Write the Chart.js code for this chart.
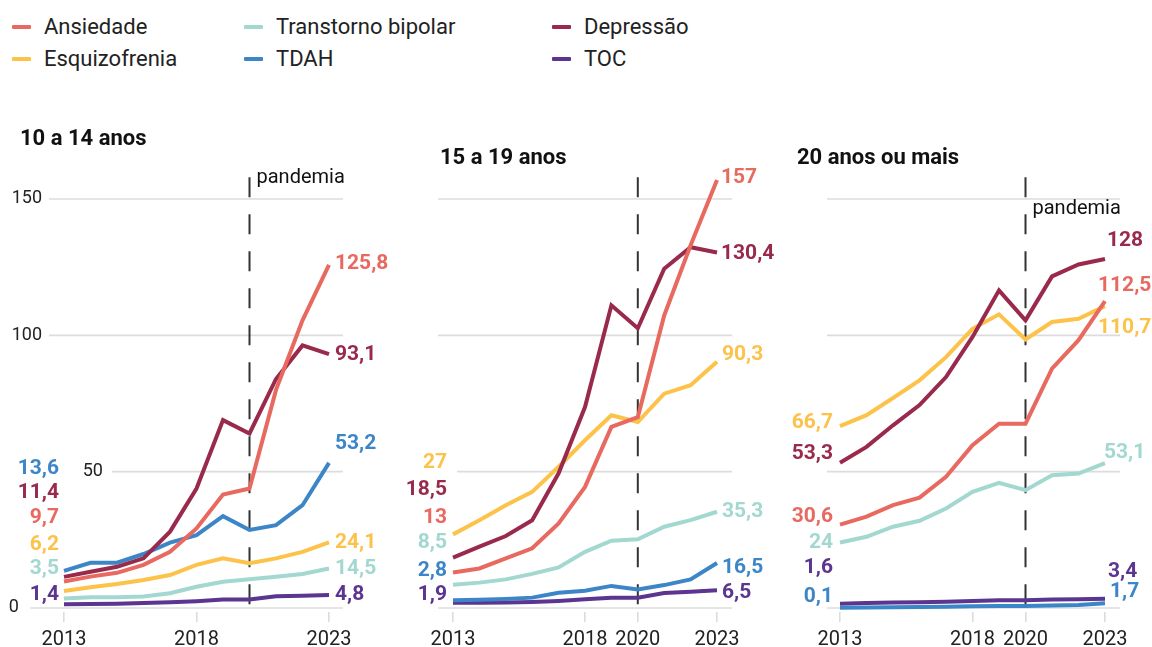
<!DOCTYPE html>
<html>
<head>
<meta charset="utf-8">
<script src="https://cdn.jsdelivr.net/npm/chart.js@4.4.1/dist/chart.umd.min.js"></script>
<style>
  body { margin: 0; background: #fff; width: 1152px; height: 647px; overflow: hidden; position: relative; font-family: Roboto, sans-serif; }
  canvas { position: absolute; top: 0; }
  .leg { position: absolute; height: 32px; line-height: 32px; font-size: 22px; color: #222; white-space: nowrap; }
  .leg i { position: absolute; top: 14px; width: 19px; height: 4px; border-radius: 1px; }
</style>
</head>
<body>
<div id="legend"></div>
<canvas id="c1" width="400" height="647" style="left:0px;width:400px;height:647px"></canvas>
<canvas id="c2" width="390" height="647" style="left:390px;width:390px;height:647px"></canvas>
<canvas id="c3" width="382" height="647" style="left:770px;width:382px;height:647px"></canvas>
<script>
// anos e séries
const years = [2013, 2014, 2015, 2016, 2017, 2018, 2019, 2020, 2021, 2022, 2023];
const series = ['Ansiedade', 'Transtorno bipolar', 'Depressão', 'Esquizofrenia', 'TDAH', 'TOC'];
const colors = ['#e8695f', '#a2d8cf', '#9a2a4c', '#fcc24a', '#3c86c8', '#5b358f'];
const gridValues = [0, 50, 100, 150];
const pandemicYear = 2020;

// 10 a 14 anos
const ans10 = [9.7, 11.5, 12.9, 15.8, 20.6, 29.2, 41.6, 43.8, 80, 105.5, 125.8];
const bip10 = [3.5, 3.9, 3.9, 4.2, 5.4, 7.8, 9.6, 10.5, 11.5, 12.5, 14.5];
const dep10 = [11.4, 13.3, 15.1, 18.2, 28, 43.8, 68.9, 64, 84, 96.3, 93.1];
const esq10 = [6.2, 7.6, 8.8, 10.3, 12.1, 15.8, 18.2, 16.4, 18.2, 20.6, 24.1];
const tdah10 = [13.6, 16.6, 16.6, 19.8, 24, 26.7, 33.7, 28.6, 30.4, 37.7, 53.2];
const toc10 = [1.4, 1.5, 1.6, 1.8, 2.1, 2.5, 3.1, 3.1, 4.3, 4.5, 4.8];

// 15 a 19 anos
const ans15 = [13, 14.5, 18.2, 21.9, 31, 44.4, 66.4, 70, 107.3, 133, 157];
const bip15 = [8.5, 9.3, 10.5, 12.5, 14.9, 20.6, 24.7, 25.2, 29.8, 32.2, 35.3];
const dep15 = [18.5, 22.5, 26.4, 32.2, 49.4, 73.7, 111, 102.6, 124.4, 132.3, 130.4];
const esq15 = [27, 32.2, 37.7, 42.6, 51.8, 61.5, 70.7, 68.2, 78.6, 81.7, 90.3];
const tdah15 = [2.8, 3.0, 3.3, 3.8, 5.6, 6.3, 8.1, 6.8, 8.4, 10.5, 16.5];
const toc15 = [1.9, 1.9, 2.0, 2.2, 2.6, 3.2, 3.8, 3.8, 5.5, 6.0, 6.5];

// 20 anos ou mais
const ans20 = [30.6, 33.5, 37.7, 40.5, 48.1, 59.7, 67.6, 67.6, 87.8, 98.2, 112.5];
const bip20 = [24, 26.1, 29.8, 32, 36.5, 42.6, 45.9, 43.2, 48.7, 49.3, 53.1];
const dep20 = [53.3, 59.1, 67, 74.4, 84.7, 99.4, 116.5, 105.5, 121.6, 126, 128];
const esq20 = [66.7, 70.7, 77, 83.5, 92, 102.4, 107.7, 98.5, 104.9, 106.1, 110.7];
const tdah20 = [0.1, 0.2, 0.3, 0.4, 0.5, 0.6, 0.7, 0.7, 0.9, 1.1, 1.7];
const toc20 = [1.6, 1.8, 2.0, 2.1, 2.3, 2.6, 2.8, 2.8, 3.1, 3.2, 3.4];

// onde ficam os rótulos (em unidades do eixo y), na ordem de "series"
const startAt10 = [33.0, 14.3, 42.1, 23.1, 50.9, 4.8];
const endAt10 = [126.4, 14.3, 92.7, 23.8, 60.4, 4.8];
const startAt15 = [33.0, 23.8, 43.2, 53.1, 13.6, 4.8];
const endAt15 = [157.9, 35.2, 130.0, 92.7, 14.7, 5.5];
const startAt20 = [33.3, 23.8, 56.4, 68.1, 4.0, 14.7];
const endAt20 = [118.3, 57.1, 134.8, 102.9, 5.9, 13.2];

const panels = [
  { id: 'c1', title: '10 a 14 anos', titleX: 20, titleY: 139, values: [ans10, bip10, dep10, esq10, tdah10, toc10],
    startAt: startAt10, endAt: endAt10, startDx: -5, endDx: [6, 6, 6, 6, 6, 6],
    xMin: 2012.434, xMax: 2023.528, pad: { left: 49, right: 57 }, ticks: [2013, 2018, 2023],
    gridFrom: [2011.72, 2014.81, null, null], tickAt: [2011.3, 2014.47, 2012.17, 2012.17], pandemia: 178 },
  { id: 'c2', title: '15 a 19 anos', titleX: 50, titleY: 158, values: [ans15, bip15, dep15, esq15, tdah15, toc15],
    startAt: startAt15, endAt: endAt15, startDx: -6, endDx: [4, 5, 4, 5, 5, 5],
    xMin: 2012.432, xMax: 2023.568, pad: { left: 48, right: 48 }, ticks: [2013, 2018, 2020, 2023],
    gridFrom: [null, 2013.15, null, null], tickAt: null, pandemia: null },
  { id: 'c3', title: '20 anos ou mais', titleX: 27, titleY: 158, values: [ans20, bip20, dep20, esq20, tdah20, toc20],
    startAt: startAt20, endAt: endAt20, startDx: -7, endDx: [-7, -1, 2, -7, 5, 3],
    xMin: 2012.509, xMax: 2023.566, pad: { left: 57, right: 32 }, ticks: [2013, 2018, 2020, 2023],
    gridFrom: [null, null, null, null], tickAt: null, pandemia: 209 }
];

const fmt = v => String(v).replace('.', ',');

const decor = {
  id: 'decor',
  beforeDatasetsDraw(chart, args, o) {
    const { ctx, scales: { x, y } } = chart;
    ctx.save();
    ctx.strokeStyle = '#dcdcdc';
    ctx.lineWidth = 1.6;
    gridValues.forEach((v, i) => {
      const py = y.getPixelForValue(v);
      const from = o.gridFrom[i] == null ? x.left : x.getPixelForValue(o.gridFrom[i]);
      ctx.beginPath();
      ctx.moveTo(from, py);
      ctx.lineTo(x.right, py);
      ctx.stroke();
      if (o.tickAt) {
        ctx.fillStyle = '#222';
        ctx.font = '18px Roboto';
        ctx.textAlign = 'right';
        ctx.textBaseline = 'middle';
        ctx.fillText(String(v), x.getPixelForValue(o.tickAt[i]), py);
      }
    });
    // linha da pandemia
    const px = x.getPixelForValue(pandemicYear);
    ctx.strokeStyle = '#333';
    ctx.lineWidth = 2;
    ctx.setLineDash([20, 17]);
    ctx.beginPath();
    ctx.moveTo(px, y.getPixelForValue(158));
    ctx.lineTo(px, y.bottom);
    ctx.stroke();
    ctx.restore();
  },
  afterDatasetsDraw(chart, args, o) {
    const { ctx, scales: { x, y } } = chart;
    ctx.save();
    ctx.textBaseline = 'middle';
    ctx.font = 'bold 21px Roboto';
    const x0 = x.getPixelForValue(years[0]);
    const x1 = x.getPixelForValue(years[years.length - 1]);
    o.values.forEach((vals, i) => {
      ctx.fillStyle = colors[i];
      ctx.textAlign = 'right';
      ctx.fillText(fmt(vals[0]), x0 + o.startDx, y.getPixelForValue(o.startAt[i]));
      ctx.textAlign = 'left';
      ctx.fillText(fmt(vals[vals.length - 1]), x1 + o.endDx[i], y.getPixelForValue(o.endAt[i]));
    });
    ctx.fillStyle = '#111';
    ctx.textAlign = 'left';
    ctx.font = 'bold 22px Roboto';
    ctx.fillText(o.title, o.titleX, o.titleY);
    if (o.pandemia) {
      ctx.font = '20px Roboto';
      ctx.fillText('pandemia', x.getPixelForValue(pandemicYear) + 7, o.pandemia);
    }
    ctx.restore();
  }
};

panels.forEach(p => {
  new Chart(document.getElementById(p.id), {
    type: 'line',
    data: {
      datasets: series.map((name, i) => ({
        label: name,
        data: years.map((yr, k) => ({ x: yr, y: p.values[i][k] })),
        borderColor: colors[i],
        borderWidth: 4,
        pointRadius: 0,
        tension: 0,
        fill: false
      }))
    },
    options: {
      responsive: false,
      animation: false,
      devicePixelRatio: 1,
      layout: { padding: { left: p.pad.left, right: p.pad.right, top: 150, bottom: 0 } },
      plugins: { legend: { display: false }, tooltip: { enabled: false }, decor: p },
      scales: {
        x: {
          type: 'linear',
          min: p.xMin,
          max: p.xMax,
          afterBuildTicks: axis => { axis.ticks = p.ticks.map(v => ({ value: v })); },
          afterFit: axis => { axis.height = 35; },
          border: { display: false },
          grid: { drawOnChartArea: false, drawTicks: true, tickLength: 10, color: '#dcdcdc', lineWidth: 1.6 },
          ticks: { callback: v => String(v), color: '#222', font: { family: 'Roboto', size: 20 }, padding: 6, maxRotation: 0 }
        },
        y: { display: false, min: -1.47, max: 167.97 }
      }
    },
    plugins: [decor]
  });
});

// legenda em HTML
const legendX = [[12, 44], [244, 276], [552, 584]];
const legendOrder = [0, 3, 1, 4, 2, 5];
const legend = document.getElementById('legend');
legendOrder.forEach((si, k) => {
  const col = Math.floor(k / 2), row = k % 2;
  const d = document.createElement('div');
  d.className = 'leg';
  d.style.left = legendX[col][0] + 'px';
  d.style.top = (11 + row * 32) + 'px';
  d.innerHTML = '<i style="left:0;background:' + colors[si] + '"></i><span style="position:absolute;left:' +
    (legendX[col][1] - legendX[col][0]) + 'px">' + series[si] + '</span>';
  legend.appendChild(d);
});
</script>
</body>
</html>
